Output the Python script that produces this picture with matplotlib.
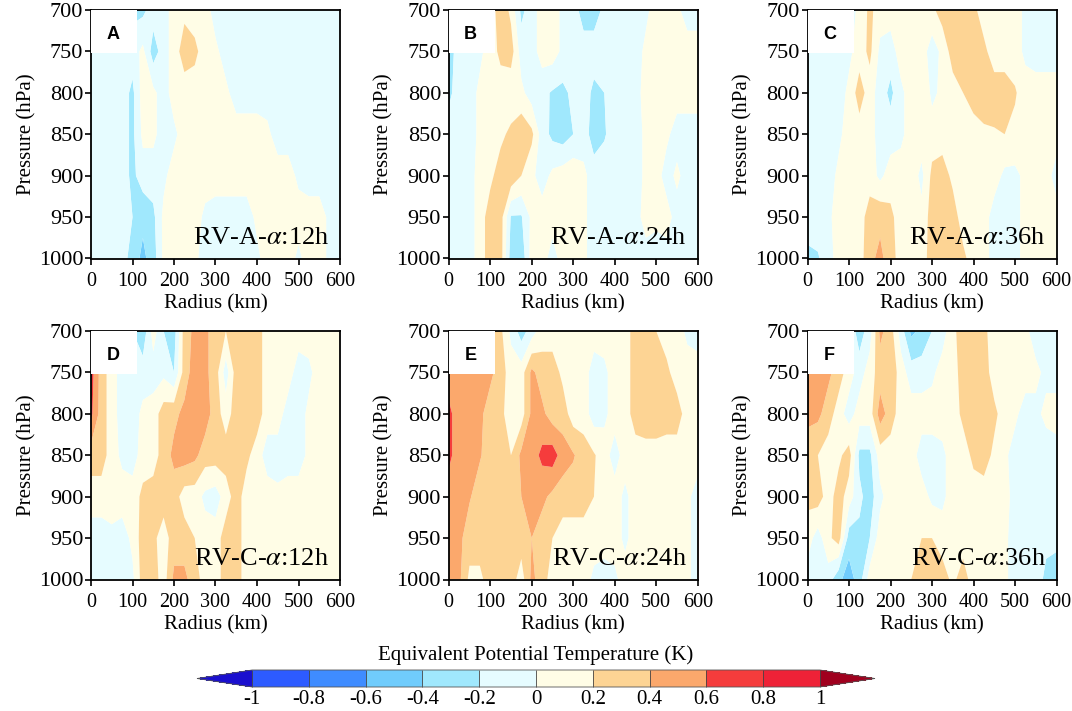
import numpy as np
import matplotlib
matplotlib.use("Agg")
import matplotlib.pyplot as plt
from matplotlib.colors import ListedColormap, BoundaryNorm
from matplotlib.patches import Rectangle

plt.rcParams['font.family'] = ['Liberation Serif', 'DejaVu Serif']
plt.rcParams['mathtext.fontset'] = 'stix'

# ---------------- data ----------------
radius_km = list(range(0, 601, 25))
pressure_hpa = [700, 750, 800, 850, 900, 950, 1000]
levels = [-1.0, -0.8, -0.6, -0.4, -0.2, 0.0, 0.2, 0.4, 0.6, 0.8, 1.0]
tick_labels = ['-1', '-0.8', '-0.6', '-0.4', '-0.2', '0', '0.2', '0.4', '0.6', '0.8', '1']
x_ticks = [0, 100, 200, 300, 400, 500, 600]
y_ticks = [700, 750, 800, 850, 900, 950, 1000]
panel_letters = ['A', 'B', 'C', 'D', 'E', 'F']
panel_titles = [r'RV-A-$\alpha$:12h', r'RV-A-$\alpha$:24h', r'RV-A-$\alpha$:36h',
                r'RV-C-$\alpha$:12h', r'RV-C-$\alpha$:24h', r'RV-C-$\alpha$:36h']

theta_A = [
    [-0.1,-0.1,-0.1,-0.1,-0.25,-0.25,-0.1,-0.1,0.1,0.15,0.1,0.1,-0.1,-0.1,-0.1,-0.1,-0.1,-0.1,-0.1,-0.1,-0.1,-0.1,-0.1,-0.1,-0.1],
    [-0.1,-0.1,-0.1,-0.1,-0.1,0.05,-0.3,-0.1,0.1,0.3,0.25,0.1,0.05,-0.1,-0.1,-0.1,-0.1,-0.1,-0.1,-0.1,-0.1,-0.1,-0.1,-0.1,-0.1],
    [-0.1,-0.1,-0.1,-0.1,-0.25,0.1,0.05,-0.1,0.1,0.1,0.1,0.15,0.1,0.05,-0.1,-0.1,-0.1,-0.1,-0.1,-0.1,-0.1,-0.1,-0.1,-0.1,-0.1],
    [-0.1,-0.1,-0.1,-0.1,-0.25,0.05,0.05,-0.1,-0.05,0.1,0.1,0.1,0.1,0.1,0.1,0.1,0.1,0.05,-0.1,-0.1,-0.1,-0.1,-0.1,-0.1,-0.1],
    [-0.1,-0.1,-0.1,-0.1,-0.25,-0.1,-0.1,-0.05,0.1,0.1,0.1,0.1,0.1,0.1,0.1,0.1,0.1,0.1,0.1,0.1,-0.05,-0.1,-0.1,-0.1,-0.1],
    [-0.1,-0.1,-0.1,-0.1,-0.2,-0.35,-0.25,0.05,0.1,0.1,0.1,-0.05,-0.1,-0.1,-0.1,-0.1,0.05,0.1,0.1,0.1,0.1,0.1,0.1,-0.05,-0.1],
    [-0.1,-0.1,-0.1,-0.1,-0.3,-0.45,-0.3,0.05,0.1,0.1,0.05,-0.1,-0.1,-0.1,-0.1,-0.1,-0.05,0.1,0.1,0.1,-0.05,0.1,0.1,-0.05,-0.1],
]

theta_B = [
    [-0.25,-0.1,-0.1,-0.1,0.05,0.35,0.15,-0.25,-0.1,0.1,0.1,-0.05,-0.1,-0.3,-0.3,-0.15,-0.1,-0.1,-0.1,-0.05,0.1,0.1,0.05,-0.1,-0.1],
    [-0.3,-0.1,-0.1,-0.05,0.1,0.25,0.3,-0.1,-0.1,0.1,0.1,-0.05,-0.1,-0.1,-0.1,-0.1,-0.1,-0.1,-0.1,0.05,0.1,0.1,0.1,0.1,0.1],
    [-0.25,-0.1,-0.1,0.05,0.15,0.1,0.05,0.05,-0.1,-0.15,-0.22,-0.25,-0.15,-0.1,-0.25,-0.2,-0.1,-0.1,-0.1,0.1,0.1,0.1,0.1,0.1,0.1],
    [-0.1,-0.1,-0.1,0.05,0.1,0.15,0.25,0.35,0.25,-0.1,-0.25,-0.3,-0.2,-0.1,-0.3,-0.22,-0.1,-0.1,-0.1,0.05,0.1,0.05,-0.1,-0.1,-0.1],
    [-0.1,-0.1,-0.1,0.1,0.15,0.3,0.35,0.2,0.05,-0.1,0.05,0.1,0.15,0.05,-0.1,-0.1,-0.1,-0.1,-0.1,0.05,0.1,-0.1,0.05,-0.1,-0.1],
    [-0.1,-0.1,-0.1,0.1,0.3,0.3,-0.22,-0.22,0.05,0.1,0.1,0.1,0.1,0.05,-0.1,-0.1,-0.1,-0.1,-0.1,0.1,0.05,0.1,-0.1,-0.1,-0.1],
    [-0.1,-0.1,-0.1,0.1,0.3,0.3,-0.3,-0.35,0.1,0.1,-0.1,0.1,0.1,0.05,-0.1,-0.1,-0.1,-0.1,-0.1,-0.1,-0.1,-0.1,-0.1,-0.1,-0.1],
]

theta_C = [
    [-0.1,-0.1,-0.1,-0.1,-0.1,0.05,0.25,0.1,0.1,0.1,0.1,0.1,0.15,0.3,0.35,0.35,0.25,0.1,0.1,0.1,0.1,-0.05,-0.1,-0.1,-0.1],
    [-0.1,-0.1,-0.1,-0.1,-0.05,0.1,0.25,-0.05,-0.1,0.1,0.1,0.1,-0.1,0.05,0.3,0.35,0.35,0.25,0.1,0.1,0.1,-0.05,-0.1,-0.1,-0.1],
    [-0.1,-0.1,-0.1,-0.1,0.05,0.3,0.1,-0.1,-0.25,-0.05,0.1,0.2,-0.05,0.05,0.1,0.2,0.3,0.35,0.3,0.3,0.22,0.1,0.1,0.1,0.1],
    [-0.1,-0.1,-0.1,-0.05,0.1,0.1,0.1,-0.1,-0.1,-0.05,0.1,0.1,0.1,0.1,0.1,0.1,0.1,0.15,0.18,0.2,0.15,0.1,0.1,0.1,0.1],
    [-0.1,-0.1,-0.1,0.05,0.1,0.1,0.1,-0.05,0.1,0.1,0.1,-0.05,0.25,0.3,0.15,0.1,0.1,0.1,0.1,-0.05,-0.05,0.05,0.1,0.1,-0.1],
    [-0.1,-0.1,-0.05,0.1,0.1,0.1,0.3,0.35,0.25,0.1,0.1,0.05,0.3,0.35,0.3,0.1,0.1,0.1,-0.1,-0.1,-0.1,0.1,0.1,0.1,0.1],
    [-0.25,-0.22,-0.1,0.1,0.1,0.1,0.35,0.45,0.3,0.1,0.1,0.1,0.3,0.35,0.35,0.25,0.1,0.1,-0.1,-0.1,-0.1,0.1,0.1,0.1,0.1],
]

theta_D = [
    [0.7,0.3,0.1,-0.1,-0.2,-0.35,0.1,-0.2,-0.3,0.3,0.45,0.45,0.3,0.2,0.3,0.3,0.3,0.1,0.1,0.1,0.1,0.1,0.1,0.1,0.1],
    [0.7,0.3,0.1,-0.1,-0.1,-0.1,-0.1,-0.05,-0.2,0.3,0.5,0.45,0.3,-0.1,0.3,0.3,0.3,0.1,0.1,0.1,-0.1,-0.05,0.1,0.1,0.1],
    [0.65,0.3,0.1,-0.1,-0.1,0.05,0.1,0.3,0.35,0.45,0.5,0.5,0.3,0.1,0.3,0.3,0.3,0.1,0.1,-0.1,-0.1,0.05,0.1,0.1,0.1],
    [0.3,0.3,0.1,-0.05,-0.1,0.1,0.1,0.3,0.45,0.5,0.45,0.3,0.3,0.3,0.3,0.25,0.1,-0.1,-0.1,-0.1,-0.1,0.05,0.1,0.1,0.1],
    [0.1,0.1,0.1,0.1,0.1,0.25,0.3,0.3,0.3,0.1,0.1,-0.05,-0.1,0.1,0.3,0.1,0.1,0.1,0.05,0.1,0.1,0.1,0.1,0.1,0.1],
    [-0.1,-0.1,-0.05,-0.1,0.05,0.3,0.25,0.1,0.3,0.3,0.2,0.1,0.1,0.3,0.3,0.1,0.1,0.1,0.1,0.1,0.1,0.1,0.1,0.1,0.1],
    [-0.1,-0.1,-0.1,-0.1,-0.05,0.3,0.3,0.1,0.45,0.45,0.3,0.1,0.1,0.3,0.3,0.1,0.1,0.1,0.1,0.1,0.1,0.1,0.1,0.1,0.1],
]

theta_E = [
    [0.45,0.45,0.45,0.45,0.3,0.25,-0.05,-0.3,-0.1,0.1,0.1,0.1,0.1,0.1,0.1,0.1,0.1,0.1,0.3,0.3,0.2,0.1,0.1,-0.05,-0.1],
    [0.5,0.5,0.45,0.45,0.45,0.3,0.1,0.1,0.45,0.3,0.3,0.15,0.1,0.1,-0.1,-0.05,0.1,0.1,0.3,0.35,0.3,0.25,0.1,0.1,0.1],
    [0.65,0.5,0.45,0.45,0.3,0.25,0.1,0.1,0.45,0.45,0.3,0.3,0.1,0.1,-0.1,-0.05,0.1,0.1,0.3,0.35,0.35,0.3,0.3,0.1,0.1],
    [0.65,0.5,0.45,0.42,0.3,0.3,0.2,0.45,0.5,0.65,0.7,0.5,0.42,0.3,0.22,0.1,-0.1,0.1,0.1,0.1,0.1,0.1,0.1,0.1,0.1],
    [0.5,0.45,0.42,0.3,0.3,0.3,0.3,0.4,0.45,0.45,0.35,0.3,0.3,0.3,0.2,0.1,0.1,-0.05,0.1,0.1,0.1,0.1,0.1,0.05,-0.1],
    [0.45,0.45,0.3,0.3,0.3,0.3,0.3,0.3,0.4,0.3,0.2,0.1,0.1,0.1,0.1,0.1,0.1,-0.05,0.1,0.1,0.1,0.1,0.1,0.05,-0.1],
    [0.45,0.45,0.15,0.15,0.3,0.3,0.3,0.1,0.45,0.3,0.1,0.1,0.1,0.1,-0.05,-0.1,-0.05,0.1,0.1,0.1,0.1,0.1,0.1,0.05,-0.1],
]

theta_F = [
    [0.45,0.45,0.45,0.3,-0.05,-0.3,-0.1,0.45,0.3,-0.1,-0.45,-0.35,-0.2,-0.1,0.15,0.3,0.35,0.25,0.1,0.1,0.1,0.05,-0.1,-0.1,-0.1],
    [0.5,0.5,0.45,0.3,0.1,-0.1,0.1,0.3,0.35,0.1,-0.1,-0.1,-0.05,0.1,0.1,0.3,0.35,0.3,0.1,0.1,0.1,0.1,0.05,-0.05,-0.1],
    [0.45,0.45,0.3,0.1,-0.1,0.1,0.1,0.5,0.3,0.1,0.1,0.1,0.1,0.1,0.1,0.25,0.3,0.35,0.25,0.1,0.05,-0.1,-0.05,0.05,0.1],
    [0.3,0.2,0.1,0.15,0.3,-0.25,-0.25,0.1,0.1,0.1,0.1,-0.1,-0.1,-0.05,0.1,0.1,0.25,0.3,0.15,0.05,-0.1,-0.1,-0.1,-0.1,-0.1],
    [0.25,0.3,0.1,0.3,0.1,-0.15,-0.3,-0.05,0.1,0.1,0.1,0.1,-0.05,-0.05,0.1,0.1,0.1,0.1,0.1,0.1,-0.1,-0.1,-0.1,-0.1,-0.1],
    [0.1,-0.1,0.15,0.3,-0.3,-0.25,-0.2,0.1,0.1,0.1,0.15,0.2,0.2,0.1,0.1,0.1,0.1,0.1,0.1,0.05,-0.1,-0.1,-0.1,-0.15,-0.15],
    [-0.1,-0.1,-0.1,-0.35,-0.5,-0.3,0.1,0.1,0.1,0.1,0.2,0.3,0.3,0.3,0.15,0.3,0.1,0.1,0.1,0.05,-0.1,-0.1,-0.1,-0.25,-0.3],
]

panel_data = [theta_A, theta_B, theta_C, theta_D, theta_E, theta_F]

# ---------------- style ----------------
fill_colors = ['#2d5bff', '#3f8cff', '#70ccfc', '#a0e8fd', '#e6fcff',
               '#fffde6', '#fdd494', '#fba86c', '#f53c3c', '#ee2237']
cmap = ListedColormap(fill_colors)
cmap.set_under('#1a0fcf')
cmap.set_over('#a0001e')
norm = BoundaryNorm(levels, cmap.N)

W, H = 1072, 711
fig = plt.figure(figsize=(W / 100, H / 100), dpi=100)

col_left = [91, 448.7, 807.5]
row_top = [10, 331]
ax_w, ax_h = 249, 248.5

for i, theta in enumerate(panel_data):
    r, c = divmod(i, 3)
    left = col_left[c]
    top = row_top[r]
    ax = fig.add_axes([left / W, 1 - (top + ax_h) / H, ax_w / W, ax_h / H])
    cs = ax.contourf(radius_km, pressure_hpa, np.array(theta), levels=levels,
                     cmap=cmap, norm=norm, extend='both', antialiased=True)
    ax.set_xlim(0, 600)
    ax.set_ylim(1000, 700)
    ax.set_xticks(x_ticks)
    ax.set_yticks(y_ticks)
    ax.tick_params(axis='both', direction='out', length=4, width=1.2,
                   top=False, right=False)
    ax.tick_params(axis='y', labelsize=16, pad=1.5)
    ax.tick_params(axis='x', labelsize=14.5, pad=6)
    for sp in ax.spines.values():
        sp.set_linewidth(1.3)
    ax.set_xlabel('Radius (km)', fontsize=15, labelpad=2)
    ax.set_ylabel('Pressure (hPa)', fontsize=15, labelpad=2)
    ax.add_patch(Rectangle((0, 1 - 0.173), 0.185, 0.173, transform=ax.transAxes,
                           facecolor='white', edgecolor='none', zorder=3))
    ax.text(0.088, 1 - 0.097, panel_letters[i], transform=ax.transAxes,
            ha='center', va='center', fontsize=13, fontweight='bold',
            family='Liberation Sans', zorder=4)
    ax.text(0.955, 0.06, panel_titles[i], transform=ax.transAxes,
            ha='right', va='baseline', fontsize=19, zorder=4)

cax = fig.add_axes([197 / W, 1 - 687 / H, 678 / W, 17 / H])
cb = fig.colorbar(cs, cax=cax, orientation='horizontal', ticks=levels,
                  drawedges=True, extendfrac=0.097)
cb.outline.set_linewidth(0.6)
cb.outline.set_edgecolor('#555555')
cb.dividers.set_color('#444444')
cb.dividers.set_linewidth(0.6)
cb.ax.set_xticklabels(tick_labels)
cb.ax.tick_params(length=0, labelsize=15, pad=2)
fig.text((252 + 819) / 2 / W, 1 - 655 / H, 'Equivalent Potential Temperature (K)',
         ha='center', va='center', fontsize=15)

fig.savefig('out.png', dpi=100)
